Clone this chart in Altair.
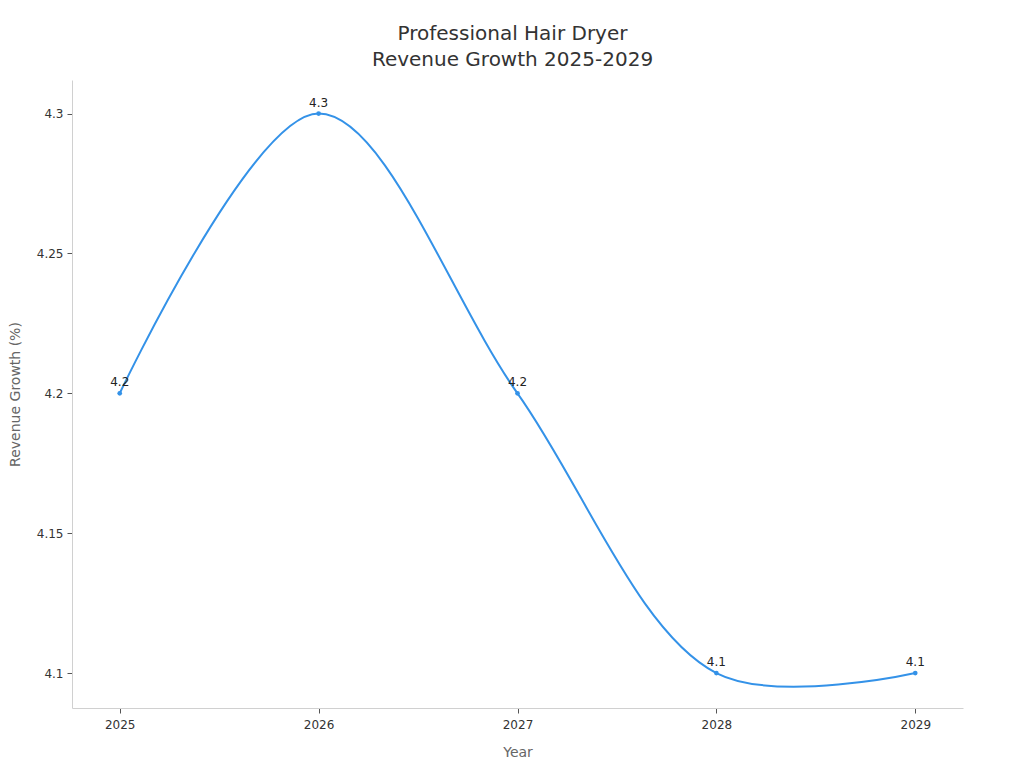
import altair as alt
import pandas as pd

years = [2025, 2026, 2027, 2028, 2029]
growth = [4.2, 4.3, 4.2, 4.1, 4.1]

df = pd.DataFrame({"Year": years, "Growth": growth})

FONT = "DejaVu Sans"
LINE = "#3492e8"

x = alt.X("Year:Q", title="Year",
          scale=alt.Scale(domain=[2024.76, 2029.24], nice=False, zero=False),
          axis=alt.Axis(values=years, format="d", grid=False, tickSize=5,
                        labelPadding=6, titlePadding=15))
y = alt.Y("Growth:Q", title="Revenue Growth (%)",
          scale=alt.Scale(domain=[4.0875, 4.312], nice=False, zero=False),
          axis=alt.Axis(values=[4.1, 4.15, 4.2, 4.25, 4.3], format="~g", grid=False,
                        tickSize=5, labelPadding=4, titlePadding=14))

base = alt.Chart(df).encode(x=x, y=y)

line = base.mark_line(interpolate="catmull-rom", color=LINE, strokeWidth=2)
pts = base.mark_circle(color=LINE, size=22, opacity=1)
labels = base.mark_text(dy=-11, fontSize=12, font=FONT, color="#222").encode(
    text=alt.Text("Growth:Q", format=".1f"))

chart = (line + pts + labels).properties(
    width=891, height=628,
    title=alt.TitleParams(["Professional Hair Dryer", "Revenue Growth 2025-2029"],
                          fontSize=20, font=FONT, fontWeight="normal", color="#333",
                          anchor="middle", offset=10, dx=-5, lineHeight=26),
    autosize=alt.AutoSizeParams(type="none"),
    padding={"left": 64, "top": 72, "right": 45, "bottom": 58},
).configure_view(stroke=None).configure_axis(
    domainColor="#d0d0d0", tickColor="#555", labelColor="#333", labelFont=FONT,
    labelFontSize=12, titleFont=FONT, titleFontSize=14, titleColor="#666",
    titleFontWeight="normal"
)

chart.save("out.html", embed_options={"renderer": "svg", "actions": False})
